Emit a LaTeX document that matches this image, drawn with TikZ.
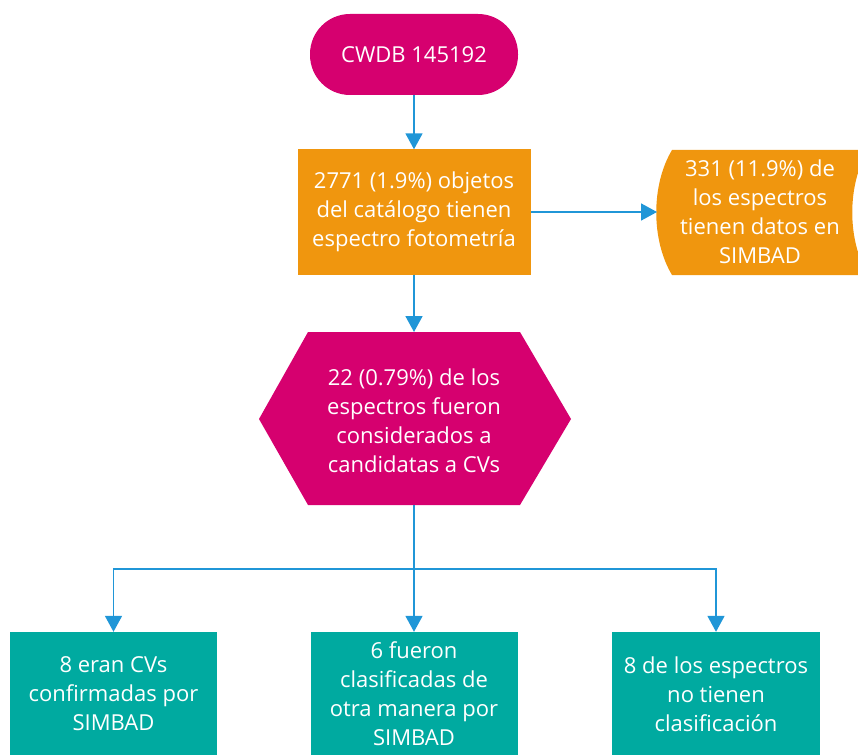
\documentclass[tikz,border=0pt]{standalone}
\usepackage{fontspec}
\setmainfont{Open Sans}
\usetikzlibrary{arrows.meta}
\definecolor{rosa}{RGB}{214,0,111}
\definecolor{naranja}{RGB}{240,150,14}
\definecolor{verde}{RGB}{0,170,160}
\definecolor{azul}{RGB}{32,150,215}

\tikzset{
  caja/.style={text=white, align=center, inner sep=0pt},
  linea/.style={draw=azul, line width=1.7pt},
  flecha/.style={linea, -{Triangle[width=17pt,length=16pt]}},
}

\begin{document}
\begin{tikzpicture}[x=1pt,y=-1pt,font=\fontsize{22}{29}\selectfont]
\useasboundingbox (0,0) rectangle (858,754);

% inicio
\node[caja, fill=rosa, rounded corners=40pt, minimum width=208pt, minimum height=81pt] (cwdb) at (414,54.5) {CWDB 145192};

% espectros
\node[caja, fill=naranja, minimum width=233pt, minimum height=125pt] (catalogo) at (414,212)
  {2771 (1.9\%) objetos\\del catálogo tienen\\espectro fotometría};

% datos en simbad
\fill[naranja] (672,150) .. controls (651,185) and (651,240) .. (672,275) -- (868,275)
  .. controls (847,240) and (847,185) .. (868,150) -- cycle;
\node[caja] (simbad) at (760,212) {331 (11.9\%) de\\los espectros\\tienen datos en\\SIMBAD};
\coordinate (simbadizq) at (657,212);

% candidatas
\fill[rosa] (308,332) -- (520,332) -- (571,419) -- (520,505) -- (308,505) -- (259,419) -- cycle;
\node[caja] (candidatas) at (414,421) {22 (0.79\%) de los\\espectros fueron\\considerados a\\candidatas a CVs};
\coordinate (hexarriba) at (414,332);
\coordinate (hexabajo) at (414,505);
\coordinate (rama) at (414,569);

% resultados
\node[caja, fill=verde, minimum width=207pt, minimum height=124pt] (confirmadas) at (113.5,694)
  {8 eran CVs\\confirmadas por\\SIMBAD};
\node[caja, fill=verde, minimum width=207pt, minimum height=124pt] (otras) at (414,694)
  {6 fueron\\clasificadas de\\otra manera por\\SIMBAD};
\node[caja, fill=verde, minimum width=208pt, minimum height=124pt] (sinclase) at (716,694)
  {8 de los espectros\\no tienen\\clasificación};

\draw[flecha] (cwdb) -- (catalogo);
\draw[flecha] (catalogo.east) -- (simbadizq);
\draw[flecha] (catalogo) -- (hexarriba);
\draw[linea] (hexabajo) -- (rama);
\draw[flecha] (rama) -| (confirmadas);
\draw[flecha] (rama) -- (otras);
\draw[flecha] (rama) -| (sinclase);
\end{tikzpicture}
\end{document}
